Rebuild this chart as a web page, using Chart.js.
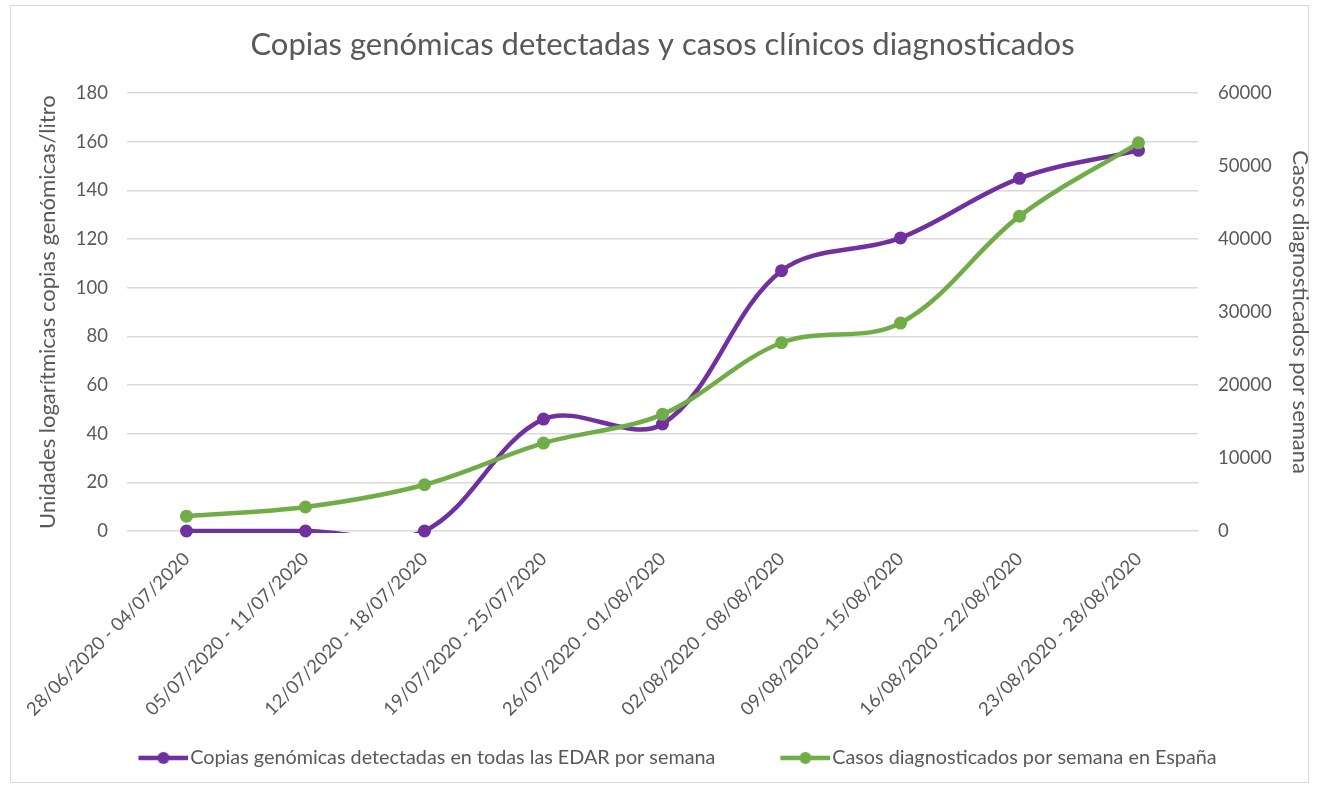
<!DOCTYPE html>
<html>
<head>
<meta charset="utf-8">
<script src="https://cdn.jsdelivr.net/npm/chart.js@4"></script>
<style>
  html, body { margin: 0; padding: 0; background: #fff; }
  #wrap { width: 1317px; height: 788px; }
</style>
</head>
<body>
<div id="wrap"><canvas id="grafico" width="1317" height="788"></canvas></div>
<script>
const semanas = [
    '28/06/2020 - 04/07/2020', '05/07/2020 - 11/07/2020', '12/07/2020 - 18/07/2020',
    '19/07/2020 - 25/07/2020', '26/07/2020 - 01/08/2020', '02/08/2020 - 08/08/2020',
    '09/08/2020 - 15/08/2020', '16/08/2020 - 22/08/2020', '23/08/2020 - 28/08/2020'
];
const copiasGenomicas = [0, 0, 0, 46, 44, 107, 120.5, 145, 156.5];
const casosDiagnosticados = [2030, 3290, 6340, 12050, 15990, 25800, 28500, 43150, 53200];
const ticksIzq = [0, 20, 40, 60, 80, 100, 120, 140, 160, 180];
const ticksDer = [0, 10000, 20000, 30000, 40000, 50000, 60000];

const morado = '#7030A0';
const verde = '#70AD47';
const gris = '#595959';

Chart.defaults.font.family = 'Lato, "Open Sans", sans-serif';
Chart.defaults.color = gris;

// marcador de la leyenda: linea con punto pegada al texto (parte izquierda transparente)
function marcador(color) {
    const c = document.createElement('canvas');
    c.width = 95; c.height = 14;
    const g = c.getContext('2d');
    g.strokeStyle = color;
    g.lineWidth = 4.5;
    g.beginPath(); g.moveTo(45, 7); g.lineTo(95, 7); g.stroke();
    g.fillStyle = color;
    g.beginPath(); g.arc(70, 7, 6, 0, Math.PI * 2); g.fill();
    return c;
}

const marco = {
    id: 'marco',
    beforeDraw(chart) {
        const ctx = chart.ctx;
        ctx.save();
        ctx.fillStyle = '#fff';
        ctx.fillRect(0, 0, chart.width, chart.height);
        ctx.strokeStyle = '#d9d9d9';
        ctx.lineWidth = 1;
        ctx.strokeRect(10.5, 5.5, 1298, 777);
        ctx.restore();
    }
};

const ctx = document.getElementById('grafico').getContext('2d');
new Chart(ctx, {
    type: 'line',
    data: {
        labels: semanas,
        datasets: [
            {
                label: 'Casos diagnosticados por semana en España',
                data: casosDiagnosticados,
                yAxisID: 'y1',
                order: 0,
                borderColor: verde,
                backgroundColor: verde,
                borderWidth: 4.5,
                tension: 0.35,
                pointRadius: 6.5,
                pointBorderWidth: 0,
                pointBackgroundColor: verde
            },
            {
                label: 'puntos',
                data: copiasGenomicas,
                yAxisID: 'y',
                order: 1,
                showLine: false,
                clip: false,
                pointRadius: 6.5,
                pointBorderWidth: 0,
                pointBackgroundColor: morado,
                borderColor: morado
            },
            {
                label: 'Copias genómicas detectadas en todas las EDAR por semana',
                data: copiasGenomicas,
                yAxisID: 'y',
                order: 2,
                borderColor: morado,
                backgroundColor: morado,
                borderWidth: 4.5,
                tension: 0.35,
                capBezierPoints: false,
                pointRadius: 0,
                clip: { left: 10, top: 10, right: 10, bottom: 2 }
            }
        ]
    },
    options: {
        responsive: false,
        animation: false,
        layout: { padding: { left: 5, right: 4, top: 0, bottom: 10.2 } },
        plugins: {
            tooltip: { enabled: false },
            title: {
                display: true,
                fullSize: false,
                text: 'Copias genómicas detectadas y casos clínicos diagnosticados',
                color: gris,
                font: { size: 31, weight: 'normal' },
                padding: { top: 26.4, bottom: 29.6 }
            },
            legend: {
                position: 'bottom',
                labels: {
                    usePointStyle: true,
                    pointStyleWidth: 79,
                    padding: 28,
                    color: gris,
                    font: { size: 19.8 },
                    generateLabels() {
                        return [
                            { text: 'Copias genómicas detectadas en todas las EDAR por semana', pointStyle: marcador(morado), fillStyle: morado, strokeStyle: morado, lineWidth: 0, hidden: false, datasetIndex: 2, fontColor: gris },
                            { text: 'Casos diagnosticados por semana en España', pointStyle: marcador(verde), fillStyle: verde, strokeStyle: verde, lineWidth: 0, hidden: false, datasetIndex: 0, fontColor: gris }
                        ];
                    }
                }
            }
        },
        scales: {
            x: {
                offset: true,
                grid: { display: false },
                border: { display: false },
                ticks: { font: { size: 18.5 }, color: gris, minRotation: 45, maxRotation: 45, padding: 9, autoSkip: false },
                afterFit(scale) {
                    scale.height = 189;
                    scale.paddingLeft = 0;
                    scale.paddingRight = 0;
                }
            },
            y: {
                position: 'left',
                min: 0, max: 180,
                afterBuildTicks(scale) { scale.ticks = ticksIzq.map(v => ({ value: v })); },
                grid: { color: '#d9d9d9', lineWidth: 1.5, drawTicks: false },
                border: { display: false },
                ticks: { font: { size: 18.5 }, color: gris, padding: 19, callback: v => String(v) },
                title: {
                    display: true,
                    text: 'Unidades logarítmicas copias genómicas/litro',
                    color: gris,
                    font: { size: 22 },
                    padding: { top: 29.8, bottom: 0 }
                },
                afterFit(scale) { scale.width = 122; }
            },
            y1: {
                position: 'right',
                min: 0, max: 60000,
                afterBuildTicks(scale) { scale.ticks = ticksDer.map(v => ({ value: v })); },
                grid: { display: false, drawTicks: false },
                border: { display: false },
                ticks: { font: { size: 18.5 }, color: gris, padding: 20, callback: v => String(v) },
                title: {
                    display: true,
                    text: 'Casos diagnosticados por semana',
                    color: gris,
                    font: { size: 22 },
                    padding: { top: 0, bottom: 0 }
                },
                afterFit(scale) { scale.width = 115; }
            }
        }
    },
    plugins: [marco]
});
</script>
</body>
</html>
